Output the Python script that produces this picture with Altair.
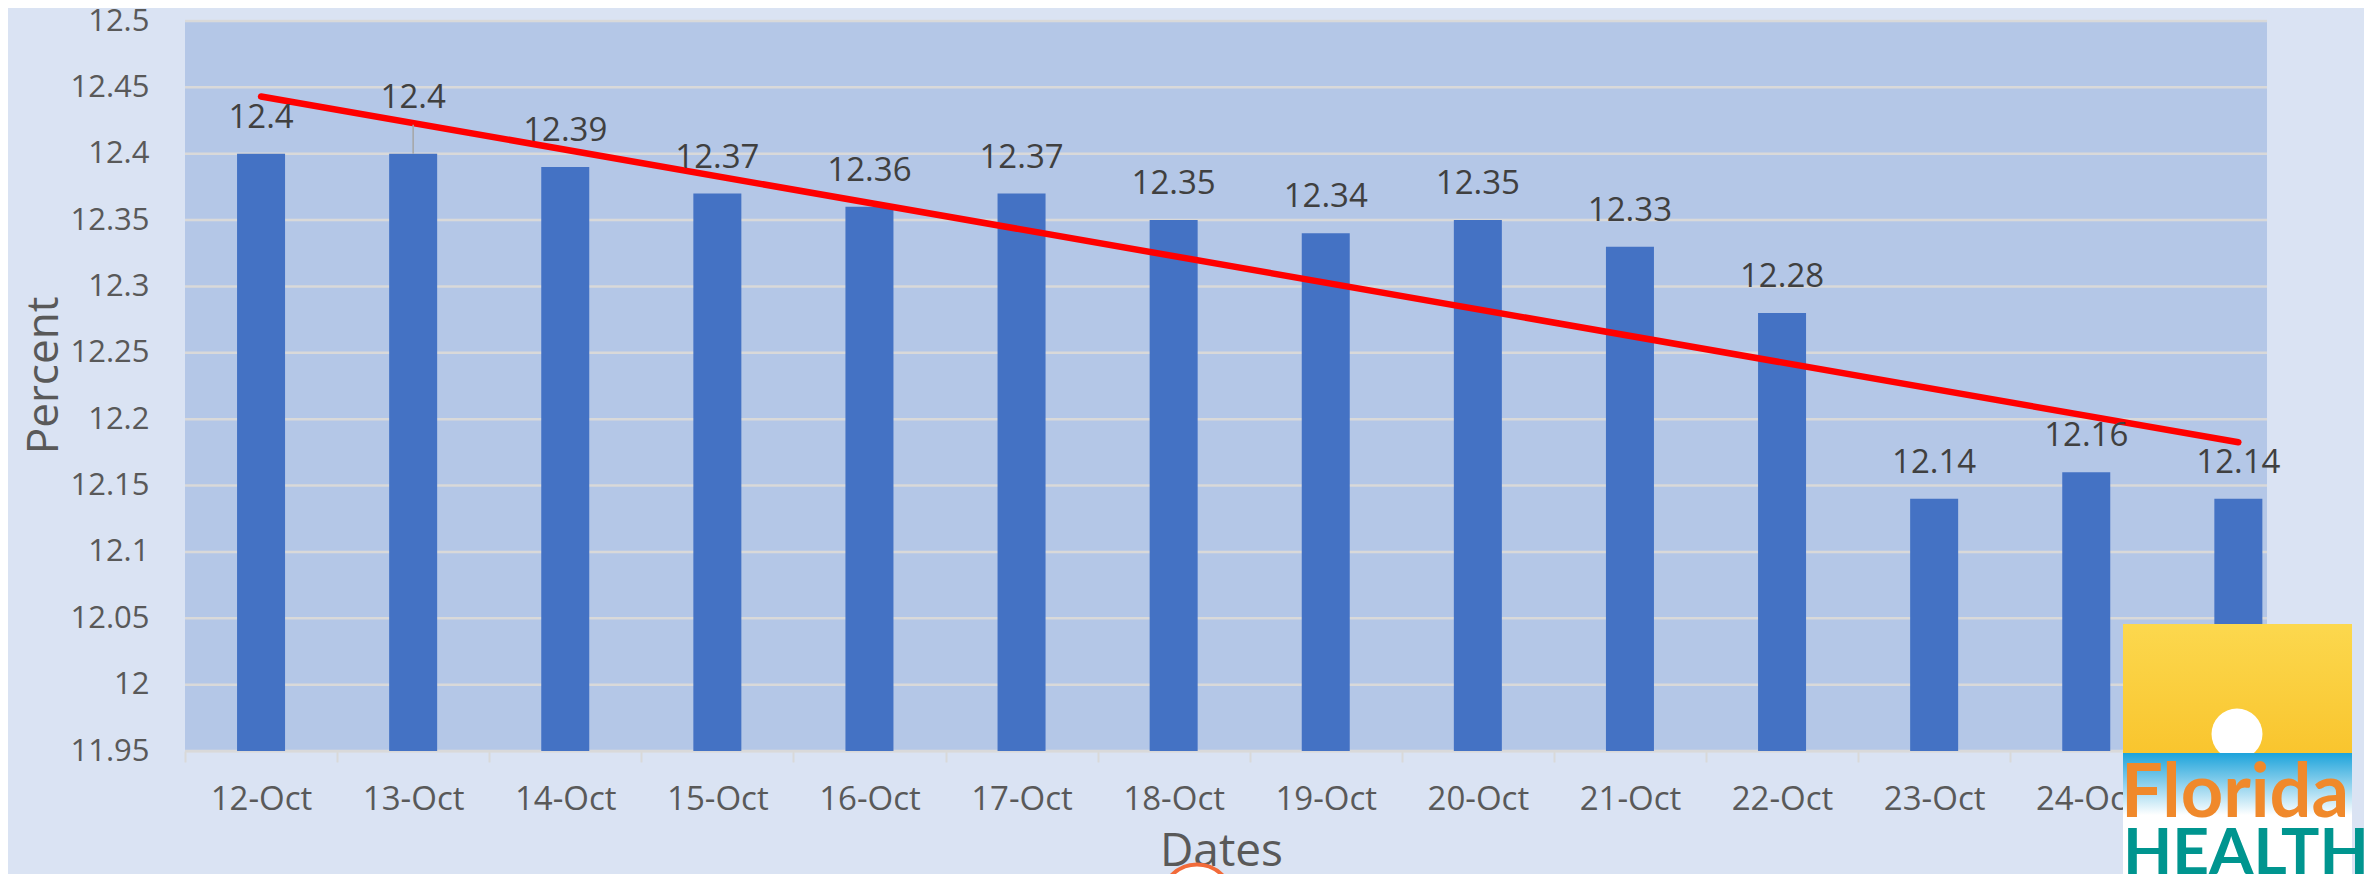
import json
import altair as alt
import pandas as pd

# ---- data ----
DATES = ["12-Oct", "13-Oct", "14-Oct", "15-Oct", "16-Oct", "17-Oct", "18-Oct",
         "19-Oct", "20-Oct", "21-Oct", "22-Oct", "23-Oct", "24-Oct", "25-Oct"]
VALUES = [12.4, 12.4, 12.39, 12.37, 12.36, 12.37, 12.35,
          12.34, 12.35, 12.33, 12.28, 12.14, 12.16, 12.14]
Y_TICKS = [11.95, 12.0, 12.05, 12.1, 12.15, 12.2, 12.25,
           12.3, 12.35, 12.4, 12.45, 12.5]
RAISED_LABEL = "13-Oct"

df = pd.DataFrame({"date": DATES, "value": VALUES, "idx": list(range(len(DATES)))})
ticks_df = pd.DataFrame({"value": Y_TICKS})
one = pd.DataFrame({"k": [0]})

W, H = 2082, 730
STEP = 152.1
FONT = "Open Sans"
GREY = "#595959"

x_enc = alt.X(
    "date:N",
    sort=DATES,
    scale=alt.Scale(domain=DATES, range=[0, STEP * len(DATES)], paddingInner=0, paddingOuter=0),
    axis=alt.Axis(
        title="Dates", labelAngle=0, labelFontSize=33, labelColor=GREY, labelPadding=21,
        tickBand="extent", ticks=True, tickColor="#D9D9D9", tickSize=11, tickWidth=2,
        domainColor="#D9D9D9", domainWidth=2, grid=False,
        titleFontSize=46, titleColor=GREY, titleFontWeight="normal",
        titleX=1036, titleY=114, titleBaseline="alphabetic", titleAlign="center",
    ),
)
y_enc = alt.Y(
    "value:Q",
    scale=alt.Scale(domain=[Y_TICKS[0], Y_TICKS[-1]], zero=False, nice=False),
    axis=alt.Axis(
        title="Percent", values=Y_TICKS, format="~g", labelFontSize=31, labelColor=GREY,
        labelPadding=36, ticks=False, domain=False, grid=False,
        titleFontSize=44, titleColor=GREY, titleFontWeight="normal",
        titleX=-128, titleY=354, titleAngle=-90, titleBaseline="alphabetic", titleAlign="center",
    ),
)

base = alt.Chart(df)

grid = alt.Chart(ticks_df).mark_rule(color="#D9D9D9", strokeWidth=2.5).encode(
    y=y_enc, x=alt.value(0), x2=alt.value(W)
)

bars = base.mark_bar(size=48, color="#4472C4").encode(
    x=x_enc, y=y_enc, y2=alt.datum(Y_TICKS[0])
)

trend = (
    base.transform_regression("idx", "value", method="linear")
    .transform_calculate(date=f"{json.dumps(DATES)}[datum.idx]")
    .transform_filter("isValid(datum.date)")
    .mark_line(color="#FF0000", strokeWidth=6.5, strokeCap="round")
    .encode(x=x_enc, y=y_enc)
)

labels = base.transform_filter(f"datum.date != '{RAISED_LABEL}'").mark_text(
    dy=-26, baseline="alphabetic", fontSize=33, color="#404040", font=FONT
).encode(x=x_enc, y=y_enc, text=alt.Text("value:Q", format="~g"))

raised = base.transform_filter(f"datum.date == '{RAISED_LABEL}'").mark_text(
    dy=-46, baseline="alphabetic", fontSize=33, color="#404040", font=FONT
).encode(x=x_enc, y=y_enc, text=alt.Text("value:Q", format="~g"))

leader = base.transform_filter(f"datum.date == '{RAISED_LABEL}'").mark_rule(
    color="#A6A6A6", strokeWidth=1.5, y2Offset=-29
).encode(x=x_enc, y=y_enc, y2="value:Q")

# ---- decorative logo (Florida Health) ----
sky = alt.Chart(one).mark_rect(
    fill={"gradient": "linear", "x1": 0, "y1": 0, "x2": 0, "y2": 1,
          "stops": [{"offset": 0, "color": "#FCD84E"}, {"offset": 1, "color": "#F9C52E"}]}
).encode(x=alt.value(1938), x2=alt.value(2167), y=alt.value(603), y2=alt.value(732))
sun = alt.Chart(one).mark_point(shape="circle", size=2600, filled=True, color="#FFFFFF", opacity=1).encode(
    x=alt.value(2052), y=alt.value(713)
)
sea = alt.Chart(one).mark_rect(
    fill={"gradient": "linear", "x1": 0, "y1": 0, "x2": 0, "y2": 1,
          "stops": [{"offset": 0, "color": "#1CA3DB"}, {"offset": 0.45, "color": "#FFFFFF"},
                    {"offset": 1, "color": "#FFFFFF"}]}
).encode(x=alt.value(1938), x2=alt.value(2167), y=alt.value(732), y2=alt.value(870))
florida = alt.Chart(one).mark_text(
    font="Lato", fontWeight="bold", fontSize=74, color="#F0892B", align="left", baseline="alphabetic"
).encode(x=alt.value(1936), y=alt.value(796), text=alt.value("Florida"))
health = alt.Chart(one).mark_text(
    font="Lato", fontWeight="bold", fontSize=64, color="#00958F", align="left", baseline="alphabetic"
).encode(x=alt.value(1938), y=alt.value(853), text=alt.value("HEALTH"))
badge = alt.Chart(one).mark_point(
    shape="circle", size=5030, fill="#FFFFFF", fillOpacity=1, stroke="#F26B3A", strokeWidth=4, opacity=1
).encode(x=alt.value(1012), y=alt.value(879))

chart = (
    alt.layer(grid, bars, trend, leader, labels, raised, sky, sun, sea, florida, health, badge)
    .properties(
        width=W, height=H, background="#DAE3F3",
        padding={"left": 177, "top": 13, "right": 97, "bottom": 123},
        autosize=alt.AutoSizeParams(type="none"),
    )
    .configure_view(fill="#B4C7E7", strokeWidth=0)
    .configure_axis(labelFont=FONT, titleFont=FONT)
)

chart.save("out.html", embed_options={"renderer": "svg", "actions": False})
